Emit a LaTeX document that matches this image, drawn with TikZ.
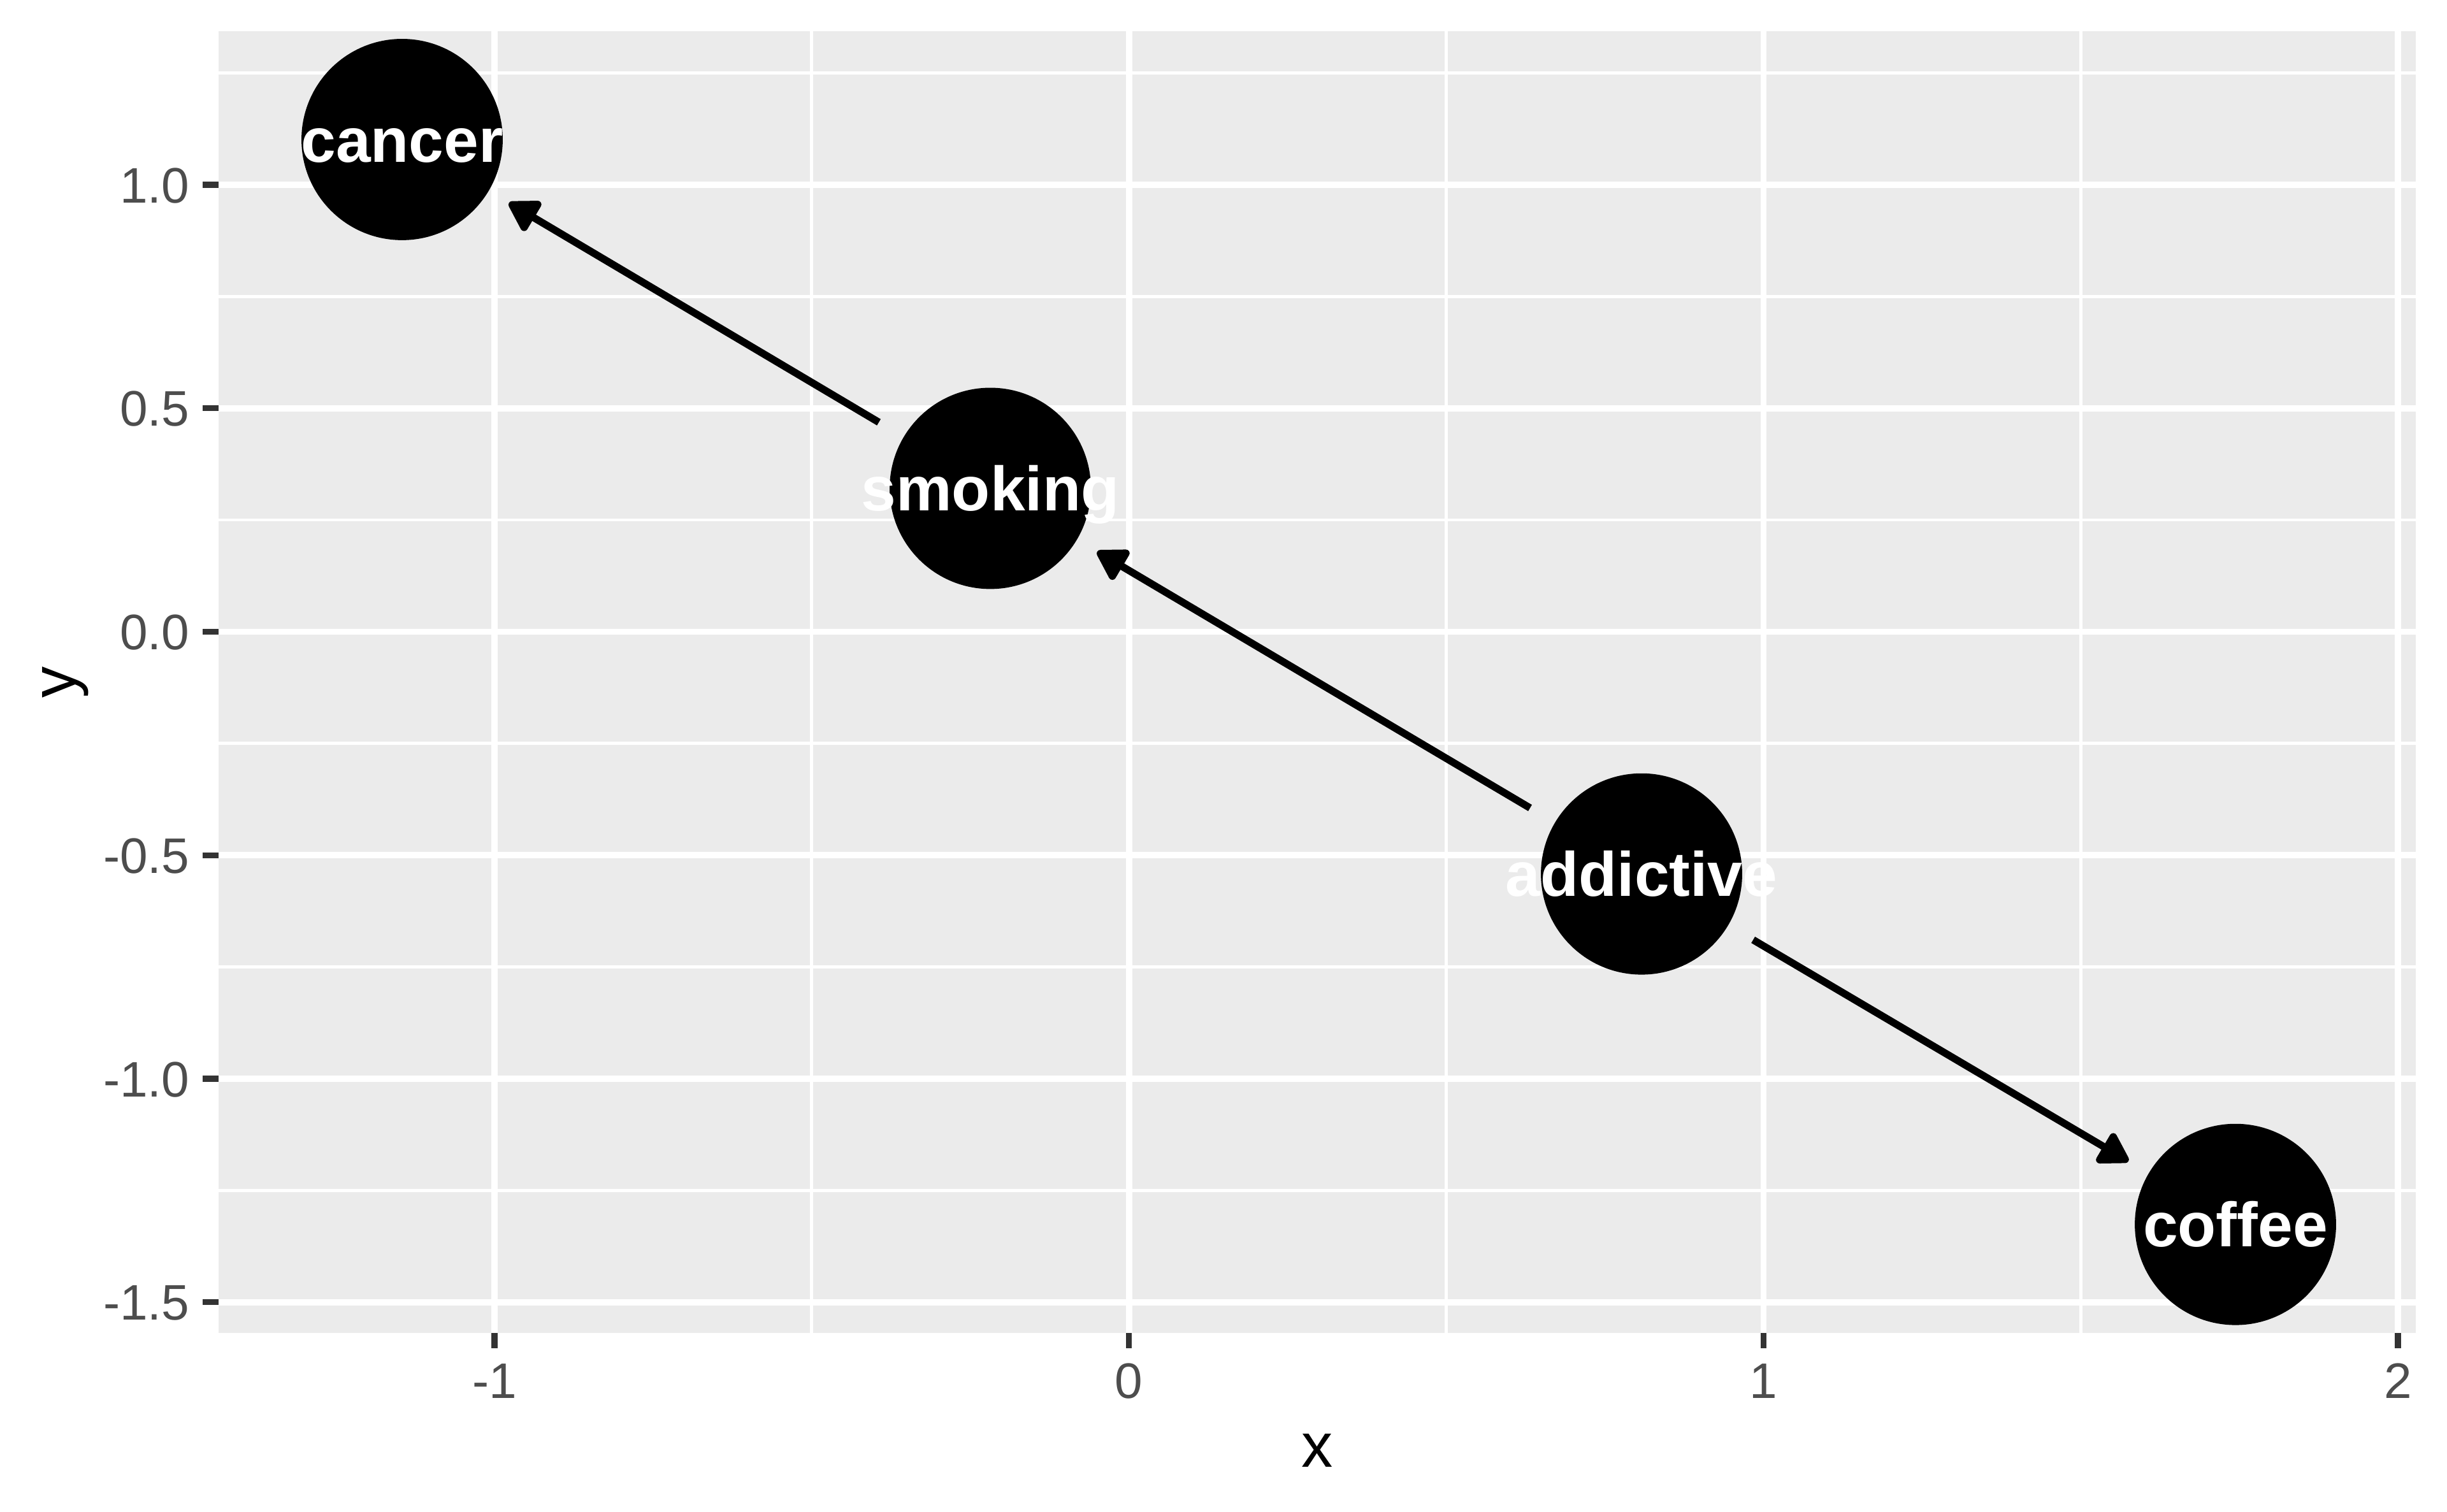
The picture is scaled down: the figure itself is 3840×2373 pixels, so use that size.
\documentclass[tikz,border=0pt]{standalone}
\usepackage{fontspec}
\setmainfont{Liberation Sans}
\usetikzlibrary{arrows.meta}
\definecolor{panelgrey}{HTML}{EBEBEB}
\definecolor{ticklabelgrey}{HTML}{4D4D4D}
\definecolor{tickmarkgrey}{HTML}{333333}
\begin{document}
\begin{tikzpicture}[x=0.12pt,y=-0.12pt,
  majorgrid/.style={draw=white,line width=1.17pt},
  minorgrid/.style={draw=white,line width=0.58pt},
  tickline/.style={draw=tickmarkgrey,line width=1.1pt},
  yticklabel/.style={anchor=east,inner sep=0pt,text=ticklabelgrey,font=\fontsize{9.4pt}{11pt}\selectfont,text height=6.73pt,text depth=0pt},
  xticklabel/.style={anchor=north,inner sep=0pt,text=ticklabelgrey,font=\fontsize{9.4pt}{11pt}\selectfont,text height=6.73pt,text depth=0pt},
  axistitle/.style={inner sep=0pt,text=black,font=\fontsize{11.8pt}{13pt}\selectfont},
  dagnode/.style={circle,fill=black,minimum size=37.9pt,inner sep=0pt,text=white,font=\fontsize{11.8pt}{13pt}\selectfont\bfseries,text height=8.45pt,text depth=0pt},
  dagedge/.style={draw=black,line width=1.38pt,shorten <=24.4pt,shorten >=23.4pt,-{Triangle[length=6.2pt,width=7.1pt,round]}}
]
\useasboundingbox[fill=white] (0,0) rectangle (3840,2373);
% panel
\fill[panelgrey] (343,49) rectangle (3791,2092);
% minor grid
\foreach \yy in {114.6,465.4,816.1,1166.9,1517.6,1868.4}
  \draw[minorgrid] (343,\yy) -- (3791,\yy);
\foreach \xx in {1273.9,2269.6,3265.2}
  \draw[minorgrid] (\xx,49) -- (\xx,2092);
% major grid
\foreach \yy in {290,640.75,991.5,1342.25,1693,2043.75}
  \draw[majorgrid] (343,\yy) -- (3791,\yy);
\foreach \xx in {776,1771.7,2767.4,3763}
  \draw[majorgrid] (\xx,49) -- (\xx,2092);
% ticks and tick labels
\foreach \yy/\lab in {290/1.0,640.75/0.5,991.5/0.0,1342.25/-0.5,1693/-1.0,2043.75/-1.5}{
  \draw[tickline] (318,\yy) -- (343,\yy);
  \node[yticklabel] (ylab\lab) at (299,\yy) {\lab};
}
\foreach \xx/\lab in {776/-1,1771.7/0,2767.4/1,3763/2}{
  \draw[tickline] (\xx,2092) -- (\xx,2116);
  \node[xticklabel] (xlab\lab) at (\xx,2137) {\lab};
}
% axis titles
\node[axistitle,anchor=base] (xtitle) at (2067,2303) {x};
\node[axistitle,anchor=base,rotate=90] (ytitle) at (118.7,1070.5) {y};
% nodes
\node[dagnode] (cancer) at (631,219) {\makebox[0pt][c]{cancer}};
\node[dagnode] (smoking) at (1554,766.5) {\makebox[0pt][c]{smoking}};
\node[dagnode] (addictive) at (2576,1371.7) {\makebox[0pt][c]{addictive}};
\node[dagnode] (coffee) at (3508,1921.7) {\makebox[0pt][c]{coffee}};
% edges
\draw[dagedge] (smoking.center) -- (cancer.center);
\draw[dagedge] (addictive.center) -- (smoking.center);
\draw[dagedge] (addictive.center) -- (coffee.center);
\end{tikzpicture}
\end{document}
